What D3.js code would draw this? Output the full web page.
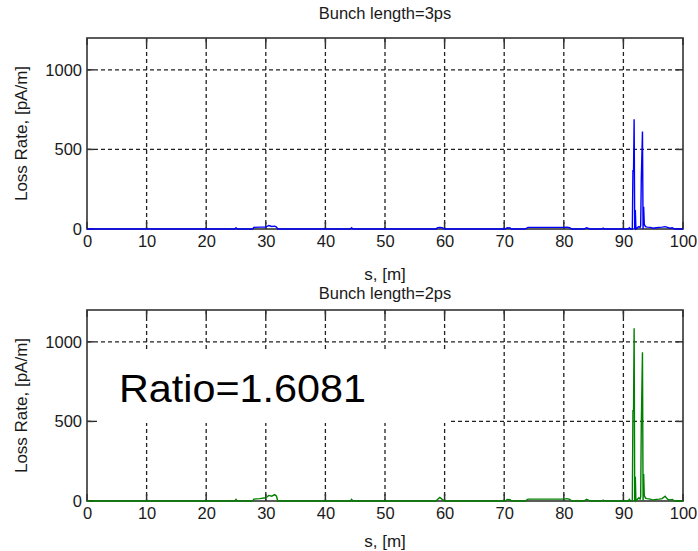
<!DOCTYPE html>
<html>
<head>
<meta charset="utf-8">
<script src="https://cdn.jsdelivr.net/npm/d3@7"></script>
<style>
  body { margin: 0; background: #fff; }
  text { font-family: "Liberation Sans", Arial, sans-serif; fill: #1a1a1a; }
</style>
</head>
<body>
<div id="chart"></div>
<script>
// position along the line, [m]
var sPos = [0, 24.8, 25.0, 25.2, 27.8, 28.0, 29.0, 30.0, 30.5, 31.0, 31.5, 31.8, 32.0,
  44.2, 44.4, 44.6, 58.6, 58.8, 59.2, 59.6, 60.0, 70.2, 70.5, 71.0, 71.2,
  73.5, 74.0, 76.0, 78.0, 80.0, 80.5, 81.0, 81.3, 83.4, 83.8, 84.4, 86.4, 86.6, 86.8,
  90.8, 91.0, 91.2, 91.5, 91.6, 91.7, 91.8, 91.9, 92.0, 92.1, 92.4, 92.6, 92.8, 92.9,
  93.0, 93.2, 93.3, 93.4, 93.5, 93.7, 94.0, 94.5, 95.0, 95.5, 96.0, 96.5, 97.0, 97.4,
  97.8, 98.2, 98.6, 100];

// loss rate for bunch length 3ps, [pA/m]
var loss3ps = [0, 0, 8, 0, 0, 10, 12, 12, 22, 16, 18, 12, 0,
  0, 8, 0, 0, 8, 10, 8, 0, 0, 8, 6, 0,
  0, 10, 10, 10, 10, 12, 8, 0, 0, 8, 0, 0, 5, 0,
  0, 8, 0, 0, 371, 360, 690, 0, 120, 0, 10, 15, 10, 20,
  308, 612, 0, 140, 30, 15, 12, 10, 5, 8, 10, 12, 15, 10,
  5, 8, 0, 0];

// loss rate for bunch length 2ps, [pA/m]
var loss2ps = [0, 0, 10, 0, 0, 12, 15, 20, 35, 30, 40, 30, 0,
  0, 10, 0, 0, 10, 22, 10, 0, 0, 10, 8, 0,
  0, 12, 12, 12, 12, 15, 10, 0, 0, 10, 0, 0, 6, 0,
  0, 10, 0, 0, 572, 560, 1086, 0, 153, 0, 12, 20, 12, 25,
  467, 935, 0, 170, 35, 18, 15, 12, 6, 10, 12, 15, 30, 12,
  6, 10, 0, 0];

var xTicks = [0, 10, 20, 30, 40, 50, 60, 70, 80, 90, 100];
var yTicks = [0, 500, 1000];

var width = 698,
    height = 551;

var svg = d3.select("#chart")
            .append("svg")
              .attr("width", width)
              .attr("height", height);

var x = d3.scaleLinear()
          .domain([0, 100])
          .range([87, 683]);

function drawPanel(top, bottom, values, color, title, titleY, xlabelY) {
  var y = d3.scaleLinear()
            .domain([0, 1200])
            .range([bottom, top]);

  var g = svg.append("g");

  // dashed grid
  g.selectAll(".vgrid")
    .data(xTicks.slice(1, -1))
    .enter()
    .append("line")
      .attr("x1", function(d) { return x(d); })
      .attr("x2", function(d) { return x(d); })
      .attr("y1", top)
      .attr("y2", bottom)
      .attr("stroke", "#222")
      .attr("stroke-width", 1.3)
      .attr("stroke-dasharray", "4,3");

  g.selectAll(".hgrid")
    .data(yTicks.slice(1))
    .enter()
    .append("line")
      .attr("x1", x(0))
      .attr("x2", x(100))
      .attr("y1", function(d) { return y(d); })
      .attr("y2", function(d) { return y(d); })
      .attr("stroke", "#222")
      .attr("stroke-width", 1.3)
      .attr("stroke-dasharray", "4,3");

  // inner tick marks
  xTicks.forEach(function(t) {
    g.append("line").attr("x1", x(t)).attr("x2", x(t)).attr("y1", bottom).attr("y2", bottom - 7)
      .attr("stroke", "#333").attr("stroke-width", 1.5);
    g.append("line").attr("x1", x(t)).attr("x2", x(t)).attr("y1", top).attr("y2", top + 7)
      .attr("stroke", "#333").attr("stroke-width", 1.5);
  });
  yTicks.forEach(function(t) {
    g.append("line").attr("x1", x(0)).attr("x2", x(0) + 7).attr("y1", y(t)).attr("y2", y(t))
      .attr("stroke", "#333").attr("stroke-width", 1.5);
    g.append("line").attr("x1", x(100)).attr("x2", x(100) - 7).attr("y1", y(t)).attr("y2", y(t))
      .attr("stroke", "#333").attr("stroke-width", 1.5);
  });

  // box
  g.append("rect")
    .attr("x", x(0))
    .attr("y", top)
    .attr("width", x(100) - x(0))
    .attr("height", bottom - top)
    .attr("fill", "none")
    .attr("stroke", "#333")
    .attr("stroke-width", 1.6);

  // axes labels
  var xAxis = g.append("g")
    .attr("transform", "translate(0," + bottom + ")")
    .call(d3.axisBottom(x).tickValues(xTicks).tickFormat(d3.format("d")).tickSize(0).tickPadding(6));
  var yAxis = g.append("g")
    .attr("transform", "translate(" + x(0) + ",0)")
    .call(d3.axisLeft(y).tickValues(yTicks).tickFormat(d3.format("d")).tickSize(0).tickPadding(5));
  [xAxis, yAxis].forEach(function(a) {
    a.select(".domain").remove();
    a.selectAll("text")
      .attr("font-size", 16.5)
      .attr("font-family", "'Liberation Sans', Arial, sans-serif")
      .attr("fill", "#1a1a1a");
  });

  // data line (drawn over the box, like the original)
  var line = d3.line()
    .x(function(d, i) { return x(sPos[i]); })
    .y(function(d) { return y(d); });

  g.append("path")
    .datum(values)
    .attr("d", line)
    .attr("fill", "none")
    .attr("stroke", color)
    .attr("stroke-width", 1.4);

  // titles
  g.append("text")
    .attr("x", (x(0) + x(100)) / 2)
    .attr("y", titleY)
    .attr("text-anchor", "middle")
    .attr("font-size", 16.5)
    .text(title);

  g.append("text")
    .attr("x", (x(0) + x(100)) / 2)
    .attr("y", xlabelY)
    .attr("text-anchor", "middle")
    .attr("font-size", 17)
    .text("s, [m]");

  g.append("text")
    .attr("transform", "translate(27," + ((top + bottom) / 2) + ") rotate(-90)")
    .attr("text-anchor", "middle")
    .attr("font-size", 17)
    .text("Loss Rate, [pA/m]");

  return g;
}

drawPanel(38, 229, loss3ps, "#0000ff", "Bunch length=3ps", 19, 280);
var bottomPanel = drawPanel(310, 501, loss2ps, "#008000", "Bunch length=2ps", 299, 547);

// ratio annotation with white background
bottomPanel.append("rect")
  .attr("x", 97)
  .attr("y", 350)
  .attr("width", 353)
  .attr("height", 73)
  .attr("fill", "#fff");

bottomPanel.append("text")
  .attr("x", 119)
  .attr("y", 402)
  .attr("font-size", 38)
  .attr("textLength", 247)
  .attr("lengthAdjust", "spacingAndGlyphs")
  .style("fill", "#000")
  .text("Ratio=1.6081");
</script>
</body>
</html>
